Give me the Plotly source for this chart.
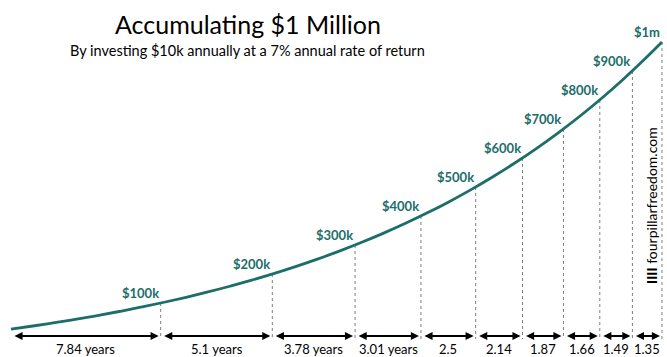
import plotly.graph_objects as go

# ---- data ----
years = list(range(1, 31)) + [30.74]
balance = [10000, 20700, 32149, 44399, 57507, 71533, 86540, 102598, 119780, 138165,
           157836, 178885, 201407, 225505, 251290, 278880, 308402, 339990, 373789, 409955,
           448652, 490057, 534361, 581766, 632490, 686764, 744838, 806976, 873465, 944608,
           1000000]
milestone_labels = ["$100k", "$200k", "$300k", "$400k", "$500k",
                    "$600k", "$700k", "$800k", "$900k", "$1m"]
milestone_values = [100000, 200000, 300000, 400000, 500000,
                    600000, 700000, 800000, 900000, 1000000]
interval_years = [7.84, 5.1, 3.78, 3.01, 2.5, 2.14, 1.87, 1.66, 1.49, 1.35]
interval_labels = ["7.84 years", "5.1 years", "3.78 years", "3.01 years", "2.5",
                   "2.14", "1.87", "1.66", "1.49", "1.35"]

title_text = "Accumulating $1 Million"
subtitle_text = "By investing $10k annually at a 7% annual rate of return"
watermark_text = "<b>IIII</b> fourpillarfreedom.com"

# ---- layout helpers ----
W, H = 667, 357
Y_TOP, Y_BOT = 1144828, -86207
X_LO, X_HI = 0.5, 30.97


def yv(px):
    return Y_TOP - px * (Y_TOP - Y_BOT) / H


milestone_years = []
acc = 0.0
for d in interval_years:
    acc += d
    milestone_years.append(round(acc, 2))

TEAL = "#1c6e69"
FONT = "Lato"

fig = go.Figure()

# dashed verticals
for xv, v in zip(milestone_years, milestone_values):
    fig.add_shape(type="line", x0=xv, x1=xv, y0=v, y1=yv(339), xref="x", yref="y",
                  line=dict(color="#7f7f7f", width=1, dash="3px,3px"), layer="below")

fig.add_trace(go.Scatter(x=years, y=balance, mode="lines",
                         line=dict(color=TEAL, width=2.8, shape="spline"),
                         hoverinfo="skip", showlegend=False))

# milestone labels
for xv, v, t in zip(milestone_years, milestone_values, milestone_labels):
    fig.add_annotation(x=xv, y=v, text=f"<b>{t}</b>", showarrow=False,
                       xanchor="right", yanchor="bottom", xshift=0, yshift=0,
                       font=dict(family=FONT, size=13, color=TEAL))

# interval arrows and labels
starts = [years[0]] + milestone_years[:-1]
for s, e, t in zip(starts, milestone_years, interval_labels):
    fig.add_annotation(x=e, y=yv(336), ax=s, ay=yv(336), xref="x", yref="y",
                       axref="x", ayref="y", text="", showarrow=True,
                       arrowhead=2, arrowside="end+start", arrowsize=0.9, arrowwidth=1.8,
                       arrowcolor="black", standoff=2, startstandoff=2)
    fig.add_annotation(x=(s + e) / 2, y=yv(349), text=t, showarrow=False,
                       xanchor="center", yanchor="middle",
                       font=dict(family=FONT, size=13, color="black"))

fig.add_annotation(x=248 / W, y=1 - 24 / H, xref="paper", yref="paper", text=title_text,
                   showarrow=False, xanchor="center", yanchor="middle",
                   font=dict(family=FONT, size=25, color="black"))
fig.add_annotation(x=68 / W, y=1 - 51 / H, xref="paper", yref="paper", text=subtitle_text,
                   showarrow=False, xanchor="left", yanchor="middle",
                   font=dict(family=FONT, size=14.5, color="black"))
fig.add_annotation(x=652 / W, y=1 - 206 / H, xref="paper", yref="paper", text=watermark_text,
                   showarrow=False, textangle=-90, xanchor="center", yanchor="middle",
                   font=dict(family=FONT, size=14, color="black"))

fig.update_layout(width=W, height=H, margin=dict(l=0, r=0, t=0, b=0),
                  paper_bgcolor="white", plot_bgcolor="white",
                  xaxis=dict(range=[X_LO, X_HI], visible=False),
                  yaxis=dict(range=[Y_BOT, Y_TOP], visible=False))

fig.write_html("out.html", config={"displayModeBar": False},
               post_script="document.body.style.margin='0px';")
